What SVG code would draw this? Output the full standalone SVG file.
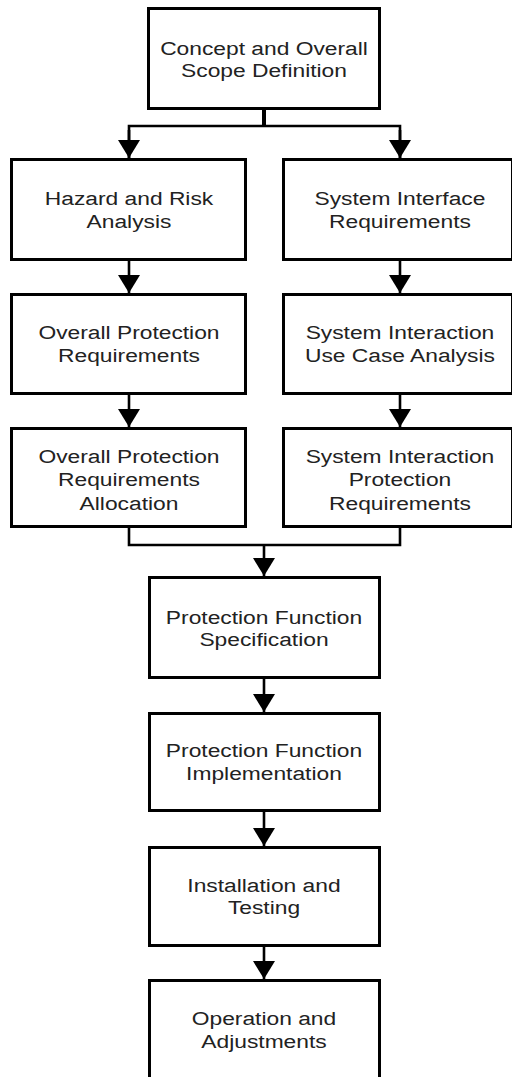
<svg xmlns="http://www.w3.org/2000/svg" width="512" height="1077" viewBox="0 0 512 1077">
<style>
.box{fill:#fff;stroke:#000;stroke-width:3}
.lbl{font-family:"Liberation Sans",Arial,sans-serif;font-size:19px;fill:#222;text-anchor:middle}
.ln{fill:none;stroke:#000;stroke-width:2.6}
</style>
<defs>
<marker id="ah" viewBox="0 0 18 22" refX="18" refY="11" markerWidth="18" markerHeight="22" markerUnits="userSpaceOnUse" orient="auto">
<path d="M0,0 L18,11 L0,22 z" fill="#000"/>
</marker>
</defs>
<rect width="512" height="1077" fill="#fff"/>
<g id="connectors">
<line class="ln" x1="264" y1="110" x2="264" y2="126" style="stroke-width:4"/>
<polyline class="ln" points="129,158 129,126 400,126 400,158" style="marker-end:none"/>
<line class="ln" x1="129" y1="130" x2="129" y2="158" marker-end="url(#ah)"/>
<line class="ln" x1="400" y1="130" x2="400" y2="158" marker-end="url(#ah)"/>
<line class="ln" x1="129" y1="261" x2="129" y2="293" marker-end="url(#ah)"/>
<line class="ln" x1="400" y1="261" x2="400" y2="293" marker-end="url(#ah)"/>
<line class="ln" x1="129" y1="395" x2="129" y2="427" marker-end="url(#ah)"/>
<line class="ln" x1="400" y1="395" x2="400" y2="427" marker-end="url(#ah)"/>
<polyline class="ln" points="129,528 129,545 400,545 400,528"/>
<line class="ln" x1="264" y1="545" x2="264" y2="576" marker-end="url(#ah)"/>
<line class="ln" x1="264" y1="679" x2="264" y2="712" marker-end="url(#ah)"/>
<line class="ln" x1="264" y1="812" x2="264" y2="846" marker-end="url(#ah)"/>
<line class="ln" x1="264" y1="947" x2="264" y2="979" marker-end="url(#ah)"/>
</g>
<g id="n1"><rect class="box" x="148.5" y="8.5" width="231" height="100"/>
<g transform="scale(1.2,1)"><text class="lbl" x="220" y="55">Concept and Overall</text><text class="lbl" x="220" y="77.5">Scope Definition</text></g></g>
<g id="n2"><rect class="box" x="11.5" y="159.5" width="234" height="100"/>
<g transform="scale(1.2,1)"><text class="lbl" x="107.5" y="205.5">Hazard and Risk</text><text class="lbl" x="107.5" y="228.5">Analysis</text></g></g>
<g id="n3"><rect class="box" x="283.5" y="159.5" width="229" height="100"/>
<g transform="scale(1.2,1)"><text class="lbl" x="333.3" y="205.5">System Interface</text><text class="lbl" x="333.3" y="228.5">Requirements</text></g></g>
<g id="n4"><rect class="box" x="11.5" y="294.5" width="234" height="99"/>
<g transform="scale(1.2,1)"><text class="lbl" x="107.5" y="339.5">Overall Protection</text><text class="lbl" x="107.5" y="362.5">Requirements</text></g></g>
<g id="n5"><rect class="box" x="283.5" y="294.5" width="229" height="99"/>
<g transform="scale(1.2,1)"><text class="lbl" x="333.3" y="339.5">System Interaction</text><text class="lbl" x="333.3" y="362.5">Use Case Analysis</text></g></g>
<g id="n6"><rect class="box" x="11.5" y="428.5" width="234" height="98"/>
<g transform="scale(1.2,1)"><text class="lbl" x="107.5" y="463">Overall Protection</text><text class="lbl" x="107.5" y="486.5">Requirements</text><text class="lbl" x="107.5" y="510">Allocation</text></g></g>
<g id="n7"><rect class="box" x="283.5" y="428.5" width="229" height="98"/>
<g transform="scale(1.2,1)"><text class="lbl" x="333.3" y="463">System Interaction</text><text class="lbl" x="333.3" y="486.5">Protection</text><text class="lbl" x="333.3" y="510">Requirements</text></g></g>
<g id="n8"><rect class="box" x="149.5" y="577.5" width="230" height="100"/>
<g transform="scale(1.2,1)"><text class="lbl" x="220" y="624">Protection Function</text><text class="lbl" x="220" y="646.5">Specification</text></g></g>
<g id="n9"><rect class="box" x="149.5" y="713.5" width="230" height="97"/>
<g transform="scale(1.2,1)"><text class="lbl" x="220" y="757.5">Protection Function</text><text class="lbl" x="220" y="780">Implementation</text></g></g>
<g id="n10"><rect class="box" x="149.5" y="847.5" width="230" height="98"/>
<g transform="scale(1.2,1)"><text class="lbl" x="220" y="892">Installation and</text><text class="lbl" x="220" y="914.5">Testing</text></g></g>
<g id="n11"><rect class="box" x="149.5" y="980.5" width="230" height="110"/>
<g transform="scale(1.2,1)"><text class="lbl" x="220" y="1025">Operation and</text><text class="lbl" x="220" y="1048">Adjustments</text></g></g>
</svg>
